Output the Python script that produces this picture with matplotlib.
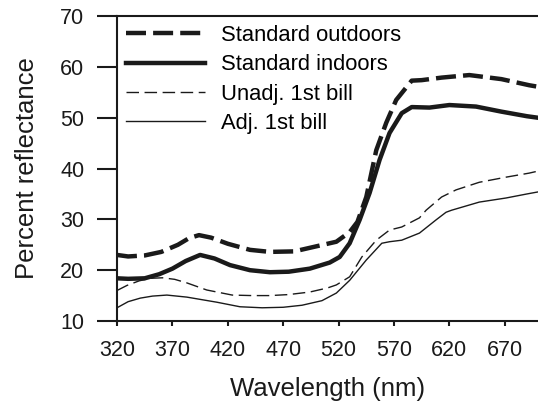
import numpy as np
import matplotlib
matplotlib.use("Agg")
import matplotlib.pyplot as plt

plt.rcParams['font.family'] = ['Liberation Sans', 'DejaVu Sans']

# ── DATA ──────────────────────────────────────────────────────────────────────

outdoor_wl = [320, 330, 345, 360, 375, 385, 394, 405, 420, 440, 458, 480, 494,
              510, 518, 530, 537, 545, 554, 563, 572, 579, 586, 595, 613, 638,
              667, 692, 700]
outdoor_pct = [23.0, 22.7, 22.9, 23.6, 25.0, 26.3, 26.9, 26.4, 25.2, 24.0, 23.6,
               23.7, 24.4, 25.2, 25.6, 27.5, 29.5, 34.4, 43.6, 49.0, 53.5,
               55.4, 57.3, 57.4, 57.9, 58.4, 57.6, 56.4, 56.1]

indoor_wl = [320, 330, 345, 358, 370, 382, 395, 408, 422, 440, 458, 475, 494,
             512, 521, 530, 539, 548, 557, 566, 577, 586, 602, 620, 644, 667,
             690, 700]
indoor_pct = [18.4, 18.3, 18.4, 19.2, 20.3, 21.8, 23.0, 22.3, 21.0, 20.0, 19.6,
              19.7, 20.3, 21.5, 22.6, 25.3, 29.9, 35.2, 41.7, 47.0, 50.9,
              52.1, 52.0, 52.5, 52.2, 51.2, 50.3, 50.0]

unadj_wl = [320, 329, 340, 350, 361, 372, 383, 401, 424, 442, 458, 475, 494,
            510, 518, 530, 541, 554, 566, 577, 593, 599, 613, 626, 647, 671,
            692, 700]
unadj_pct = [16.0, 17.0, 17.9, 18.4, 18.5, 18.2, 17.5, 16.1, 15.1, 15.0, 15.0,
             15.2, 15.7, 16.5, 17.1, 18.7, 22.6, 25.9, 27.9, 28.5, 30.3,
             31.8, 34.4, 35.8, 37.3, 38.3, 39.1, 39.5]

adj_wl = [320, 330, 341, 352, 365, 383, 410, 431, 451, 470, 487, 505, 518,
          530, 545, 559, 566, 577, 593, 608, 617, 622, 647, 671, 690, 700]
adj_pct = [12.6, 13.8, 14.5, 14.9, 15.1, 14.7, 13.7, 12.8, 12.6, 12.7, 13.1,
           14.0, 15.5, 18.0, 22.0, 25.3, 25.6, 25.9, 27.3, 29.9, 31.4,
           31.8, 33.4, 34.2, 35.0, 35.4]

x_ticks = [320, 370, 420, 470, 520, 570, 620, 670]
y_ticks = [10, 20, 30, 40, 50, 60, 70]

# ── PLOT ──────────────────────────────────────────────────────────────────────

ink = '#1a1a1a'
fig = plt.figure(figsize=(5.38, 4.03), dpi=100)
ax = fig.add_axes([0.2175, 0.2035, 0.7825, 0.7565])

ax.plot(outdoor_wl, outdoor_pct, color=ink, lw=3.2, dashes=(4.5, 1.6),
        label='Standard outdoors')
ax.plot(indoor_wl, indoor_pct, color=ink, lw=3.2, label='Standard indoors')
ax.plot(unadj_wl, unadj_pct, color=ink, lw=1.0, dashes=(9, 4),
        label='Unadj. 1st bill')
ax.plot(adj_wl, adj_pct, color=ink, lw=1.0, label='Adj. 1st bill')

ax.set_xlim(320, 700)
ax.set_ylim(10, 70)
ax.set_xticks(x_ticks)
ax.set_yticks(y_ticks)

for side in ('left', 'bottom', 'top'):
    ax.spines[side].set_color(ink)
    ax.spines[side].set_linewidth(1.5)
ax.spines['right'].set_visible(False)

ax.tick_params(axis='y', direction='out', length=14.5, width=1.5, color=ink,
               labelsize=15.5, pad=9, labelcolor=ink)
ax.tick_params(axis='x', direction='out', length=3.5, width=1.5, color=ink,
               labelsize=15.5, pad=10, labelcolor=ink)

ax.set_xlabel('Wavelength (nm)', fontsize=18.5, color=ink, labelpad=12)
ax.set_ylabel('Percent reflectance', fontsize=18.5, color=ink, labelpad=15)

ax.legend(loc='upper left', frameon=False, fontsize=15.8, handlelength=3.6,
          handletextpad=0.75, labelspacing=0.38, borderaxespad=0.05,
          borderpad=0.35)

fig.savefig('out.png', dpi=100)
